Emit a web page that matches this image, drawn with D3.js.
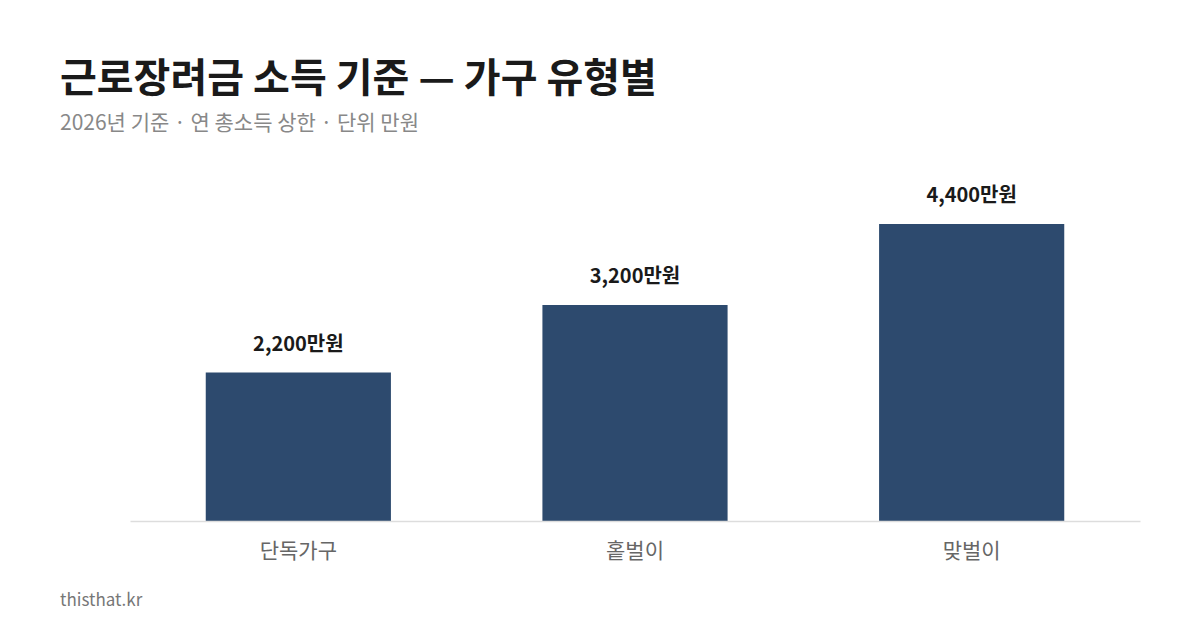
<!DOCTYPE html>
<html><head><meta charset="utf-8">
<script src="https://cdn.jsdelivr.net/npm/d3@7"></script>
<style>body{margin:0;background:#fff}svg{display:block}</style>
</head><body>
<svg id="c" width="1200" height="630"></svg>
<script>
var categories = ['단독가구', '홑벌이', '맞벌이'];
var values = [2200, 3200, 4400];
var valueLabels = ['2,200만원', '3,200만원', '4,400만원'];

var svg = d3.select('#c'),
    font = "'Noto Sans CJK KR', 'Noto Sans', sans-serif";

svg.append('text').attr('x', 60).attr('y', 92)
  .attr('font-family', font).attr('font-size', 40).attr('font-weight', 700)
  .attr('fill', '#1a1a1a').text('근로장려금 소득 기준 — 가구 유형별');
svg.append('text').attr('x', 60).attr('y', 130)
  .attr('font-family', font).attr('font-size', 21)
  .attr('fill', '#888').text('2026년 기준 · 연 총소득 상한 · 단위 만원');

var x = d3.scaleBand().domain(categories).range([130, 1140])
  .paddingInner(0.45).paddingOuter(0.225);
var y = d3.scaleLinear().domain([0, 5000]).range([521, 183.5]);

svg.selectAll('rect.bar').data(values).enter().append('rect')
  .attr('class', 'bar')
  .attr('x', function(d, i) { return x(categories[i]); })
  .attr('y', function(d) { return y(d); })
  .attr('width', x.bandwidth())
  .attr('height', function(d) { return y(0) - y(d); })
  .attr('fill', '#2d4a6e');

svg.selectAll('text.val').data(values).enter().append('text')
  .attr('class', 'val')
  .attr('x', function(d, i) { return x(categories[i]) + x.bandwidth() / 2; })
  .attr('y', function(d) { return y(d) - 22; })
  .attr('text-anchor', 'middle').attr('font-family', font)
  .attr('font-size', 20).attr('font-weight', 700).attr('fill', '#1a1a1a')
  .text(function(d, i) { return valueLabels[i]; });

var axis = svg.append('g').attr('transform', 'translate(0,521)')
  .call(d3.axisBottom(x).tickSize(0).tickPadding(22));
axis.select('.domain').attr('stroke', '#ddd').attr('stroke-width', 1.5);
axis.selectAll('text').attr('font-family', font).attr('font-size', 21).attr('fill', '#666');

svg.append('text').attr('x', 60).attr('y', 606)
  .attr('font-family', font).attr('font-size', 17)
  .attr('fill', '#777').text('thisthat.kr');
</script>
</body></html>
